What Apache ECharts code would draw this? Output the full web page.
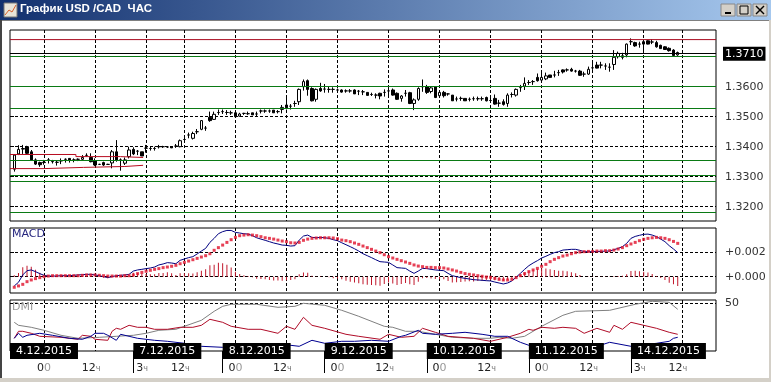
<!DOCTYPE html>
<html>
<head>
<meta charset="utf-8">
<title>USD/CAD</title>
<script src="https://cdn.jsdelivr.net/npm/echarts@6/dist/echarts.min.js"></script>
<style>
html,body{margin:0;padding:0;background:#fff;}
#container{width:771px;height:382px;}
</style>
</head>
<body>
<div id="container"></div>
<script>
// hourly candles: open, close, low, high (first one sits at slot 1)
var candles=[
[1.3325,1.3372,1.3317,1.3375],[1.3376,1.3391,1.3372,1.3405],[1.3392,1.3394,1.3376,1.3406],[1.3400,1.3378,1.3374,1.3403],
[1.3383,1.3356,1.3353,1.3389],[1.3356,1.3342,1.3339,1.3361],[1.3347,1.3340,1.3333,1.3350],[1.3348,1.3347,1.3340,1.3356],
[1.3356,1.3356,1.3344,1.3362],[1.3350,1.3351,1.3344,1.3356],[1.3348,1.3348,1.3337,1.3353],[1.3353,1.3353,1.3342,1.3361],
[1.3358,1.3358,1.3347,1.3361],[1.3361,1.3356,1.3347,1.3362],[1.3356,1.3356,1.3348,1.3361],[1.3358,1.3358,1.3352,1.3361],
[1.3358,1.3364,1.3356,1.3372],[1.3371,1.3371,1.3367,1.3378],[1.3364,1.3350,1.3348,1.3378],[1.3352,1.3339,1.3336,1.3361],
[1.3341,1.3341,1.3339,1.3343],[1.3347,1.3339,1.3336,1.3350],[1.3341,1.3341,1.3339,1.3343],[1.3346,1.3383,1.3328,1.3389],
[1.3383,1.3356,1.3350,1.3422],[1.3356,1.3356,1.3320,1.3361],[1.3345,1.3356,1.3339,1.3364],[1.3367,1.3389,1.3361,1.3400],
[1.3391,1.3376,1.3372,1.3398],[1.3385,1.3385,1.3372,1.3389],[1.3383,1.3369,1.3369,1.3383],[1.3395,1.3395,1.3380,1.3406],
[1.3394,1.3394,1.3387,1.3402],[1.3394,1.3394,1.3387,1.3400],[1.3400,1.3400,1.3394,1.3406],[1.3400,1.3400,1.3396,1.3403],
[1.3399,1.3399,1.3396,1.3402],[1.3400,1.3396,1.3396,1.3400],[1.3402,1.3402,1.3396,1.3409],[1.3400,1.3420,1.3398,1.3424],
[1.3424,1.3424,1.3417,1.3433],[1.3439,1.3439,1.3428,1.3447],[1.3428,1.3444,1.3424,1.3450],[1.3450,1.3450,1.3442,1.3459],
[1.3458,1.3487,1.3455,1.3489],[1.3462,1.3462,1.3453,1.3469],[1.3498,1.3487,1.3483,1.3517],[1.3491,1.3508,1.3489,1.3517],
[1.3514,1.3514,1.3506,1.3524],[1.3517,1.3517,1.3509,1.3524],[1.3514,1.3514,1.3506,1.3522],[1.3513,1.3513,1.3506,1.3520],
[1.3513,1.3500,1.3498,1.3517],[1.3502,1.3509,1.3500,1.3513],[1.3511,1.3511,1.3506,1.3513],[1.3510,1.3510,1.3506,1.3517],
[1.3513,1.3506,1.3506,1.3513],[1.3509,1.3509,1.3502,1.3517],[1.3519,1.3519,1.3511,1.3524],[1.3519,1.3519,1.3513,1.3524],
[1.3519,1.3519,1.3513,1.3524],[1.3522,1.3513,1.3513,1.3522],[1.3517,1.3517,1.3511,1.3522],[1.3524,1.3531,1.3511,1.3539],
[1.3539,1.3530,1.3524,1.3567],[1.3535,1.3535,1.3524,1.3542],[1.3544,1.3544,1.3533,1.3553],[1.3550,1.3591,1.3539,1.3594],
[1.3600,1.3617,1.3587,1.3624],[1.3620,1.3591,1.3570,1.3624],[1.3594,1.3553,1.3551,1.3598],[1.3558,1.3591,1.3550,1.3594],
[1.3594,1.3586,1.3583,1.3613],[1.3592,1.3592,1.3580,1.3609],[1.3591,1.3591,1.3580,1.3600],[1.3591,1.3591,1.3580,1.3598],
[1.3589,1.3589,1.3580,1.3594],[1.3589,1.3582,1.3580,1.3591],[1.3586,1.3586,1.3580,1.3591],[1.3586,1.3586,1.3580,1.3592],
[1.3589,1.3576,1.3576,1.3591],[1.3585,1.3585,1.3572,1.3589],[1.3583,1.3583,1.3572,1.3589],[1.3581,1.3571,1.3571,1.3581],
[1.3574,1.3574,1.3569,1.3580],[1.3572,1.3572,1.3561,1.3578],[1.3578,1.3569,1.3558,1.3580],[1.3581,1.3581,1.3567,1.3591],
[1.3586,1.3586,1.3570,1.3596],[1.3589,1.3572,1.3570,1.3594],[1.3578,1.3558,1.3556,1.3581],[1.3561,1.3569,1.3550,1.3572],
[1.3578,1.3578,1.3567,1.3589],[1.3580,1.3544,1.3542,1.3583],[1.3544,1.3556,1.3522,1.3561],[1.3558,1.3594,1.3553,1.3598],
[1.3600,1.3600,1.3583,1.3624],[1.3600,1.3581,1.3576,1.3606],[1.3584,1.3596,1.3578,1.3602],[1.3600,1.3564,1.3562,1.3602],
[1.3570,1.3581,1.3564,1.3589],[1.3581,1.3570,1.3564,1.3586],[1.3576,1.3576,1.3570,1.3578],[1.3572,1.3553,1.3553,1.3572],
[1.3559,1.3559,1.3551,1.3567],[1.3561,1.3561,1.3553,1.3567],[1.3561,1.3553,1.3553,1.3561],[1.3558,1.3558,1.3551,1.3564],
[1.3560,1.3560,1.3553,1.3567],[1.3560,1.3560,1.3553,1.3567],[1.3560,1.3560,1.3553,1.3567],[1.3564,1.3553,1.3551,1.3567],
[1.3554,1.3554,1.3547,1.3567],[1.3561,1.3542,1.3540,1.3574],[1.3545,1.3545,1.3533,1.3556],[1.3550,1.3541,1.3537,1.3558],
[1.3544,1.3572,1.3533,1.3578],[1.3574,1.3574,1.3564,1.3581],[1.3572,1.3591,1.3567,1.3594],[1.3597,1.3597,1.3583,1.3606],
[1.3602,1.3611,1.3589,1.3631],[1.3614,1.3614,1.3606,1.3622],[1.3617,1.3617,1.3606,1.3622],[1.3631,1.3620,1.3617,1.3644],
[1.3622,1.3631,1.3614,1.3647],[1.3626,1.3636,1.3622,1.3647],[1.3639,1.3631,1.3631,1.3639],[1.3639,1.3639,1.3631,1.3653],
[1.3647,1.3647,1.3636,1.3656],[1.3656,1.3649,1.3644,1.3658],[1.3656,1.3656,1.3650,1.3661],[1.3658,1.3652,1.3650,1.3663],
[1.3652,1.3652,1.3647,1.3656],[1.3652,1.3638,1.3636,1.3656],[1.3642,1.3642,1.3633,1.3650],[1.3642,1.3658,1.3639,1.3667],
[1.3663,1.3663,1.3656,1.3683],[1.3672,1.3662,1.3661,1.3683],[1.3672,1.3672,1.3661,1.3683],[1.3669,1.3669,1.3656,1.3678],
[1.3665,1.3665,1.3650,1.3678],[1.3674,1.3698,1.3656,1.3722],[1.3700,1.3711,1.3694,1.3717],[1.3703,1.3698,1.3691,1.3713],
[1.3706,1.3742,1.3698,1.3744],[1.3750,1.3750,1.3739,1.3761],[1.3747,1.3736,1.3733,1.3750],[1.3742,1.3742,1.3730,1.3750],
[1.3750,1.3742,1.3720,1.3753],[1.3753,1.3742,1.3741,1.3755],[1.3749,1.3749,1.3742,1.3758],[1.3747,1.3733,1.3730,1.3753],
[1.3738,1.3727,1.3727,1.3740],[1.3733,1.3724,1.3724,1.3735],[1.3728,1.3720,1.3717,1.3731],[1.3722,1.3704,1.3704,1.3725],
[1.3706,1.3714,1.3703,1.3717]
];
var lastPrice=1.3710;
var priceTicks=[1.32,1.33,1.34,1.35,1.36,1.37];
var greenLevels=[1.3701,1.3601,1.3527,1.3355,1.3304,1.3285,1.3181];
var redLevel=1.3757;
// red range steps on the left side
var rangeTopX=[0,15.5,26,31.3];
var rangeTop=[1.3374,1.3367,1.3364,1.3364];
var rangeBottomX=[0,8,17.3,27,31.3];
var rangeBottom=[1.3327,1.3331,1.3334,1.3338,1.3338];

// MACD, in points (0.00001)
var macdLine=[-76,-46,14,49,55,41,25,11,5,5,5,8,8,8,11,14,16,19,19,14,8,0,-8,0,8,11,14,19,46,55,60,66,71,79,96,104,115,112,106,134,
145,156,164,186,210,232,281,314,352,369,379,379,363,358,352,349,336,319,308,298,287,276,268,259,257,251,254,300,333,341,322,319,322,319,314,303,295,278,262,246,
229,210,188,172,156,139,123,120,117,96,74,71,68,46,27,46,68,66,60,55,52,49,27,8,0,-8,-14,-19,-25,-27,-30,-33,-35,-44,-52,-60,-52,-35,-5,27,
60,90,112,131,153,167,183,197,205,218,221,224,224,216,205,205,205,207,207,210,210,221,232,246,273,314,330,339,347,349,341,328,308,287,254,227,197];
var macdSignal=[-87,-76,-63,-41,-27,-16,-8,0,5,8,8,8,8,8,8,8,11,14,14,14,11,8,5,5,5,5,8,8,14,25,35,44,52,60,66,74,79,85,93,106,
117,128,139,150,161,172,188,216,238,259,281,303,322,336,341,344,341,336,328,319,314,308,300,292,287,278,276,281,298,308,314,317,319,319,319,317,311,300,295,287,
276,265,251,238,224,210,197,180,164,153,142,131,120,109,96,87,82,76,76,74,74,71,63,55,46,35,25,19,14,8,3,-3,-5,-14,-22,-27,-27,-22,-8,8,
25,41,55,68,85,101,123,142,156,169,177,188,197,202,205,207,207,210,210,213,213,218,227,238,254,268,281,295,306,314,319,322,319,314,303,289,273];
var macdHist=[11,30,77,90,82,57,33,11,0,-3,-3,0,0,0,3,6,5,5,5,0,-3,-8,-13,-5,3,6,6,11,32,30,25,22,19,19,30,30,36,27,13,28,
28,28,25,36,49,60,93,98,114,110,98,76,41,22,11,5,-5,-17,-20,-21,-27,-32,-32,-33,-30,-27,-22,19,35,33,8,2,3,0,-5,-14,-16,-22,-33,-41,
-47,-55,-63,-66,-68,-71,-74,-60,-47,-57,-68,-60,-52,-63,-69,-41,-14,-10,-16,-19,-22,-22,-36,-47,-46,-43,-39,-38,-39,-35,-33,-30,-30,-30,-30,-33,-25,-13,3,19,
35,49,57,63,68,66,60,55,49,49,44,36,27,14,0,-2,-2,-3,-3,-3,-3,3,5,8,19,46,49,44,41,35,22,6,-11,-27,-49,-62,-76];
var macdTicks=[0,200];

// DMI vertices (slot, value)
var adxX=[1,2,5,8,12,16,21,25,29,32,35,39,41,45,48,50,52,58,63,67,69,74,78,82,88,90,93,96,100,104,109,113,115,118,121,125,130,133,141,147,151,155,157];
var adx=[31,28,26,23,18,15,16,17,18,20,23,24,27,33,42,47,49,49,46,47,50,48,43,37,27,26,22,22,19,16,15,15,16,15,17,27,38,42,43,49,52,51,44];
var plusDiX=[1,2,3,5,7,12,16,17,19,20,23,24,25,26,28,30,32,34,37,40,43,45,47,50,52,56,59,63,65,67,69,71,74,79,82,87,89,92,95,97,100,103,106,109,113,117,120,122,123,125,128,130,133,135,138,141,142,144,146,149,152,155,157];
var plusDi=[15,22,22,20,17,16,14,18,17,14,13,22,25,24,28,26,26,24,24,26,26,28,34,31,27,24,24,20,27,24,36,28,25,19,17,14,19,16,17,25,21,17,16,15,12,16,20,24,23,26,25,26,25,20,25,21,28,24,31,28,25,21,19];
var minusDiX=[1,2,3,4,7,10,14,17,19,20,22,23,25,26,28,30,34,37,41,45,50,55,64,68,71,74,78,81,85,89,92,93,96,97,100,104,107,111,114,117,120,122,134,138,141,146,152,155,156,157];
var minusDi=[15,20,16,18,20,18,15,14,17,20,20,18,13,19,17,15,13,12,10,7,6,8,9,7,13,10,12,12,13,12,17,18,23,20,19,20,21,19,17,17,11,8,8,7,11,7,10,12,15,16];
var dmiTicks=[50];

// slot numbers of the hour marks and the date plates
var hourTicks=[8,20,32,41,53,65,77,89,101,113,125,137,149,158];
var hourLabels=['00','12ч','3ч','12ч','00','12ч','00','12ч','00','12ч','00','12ч','3ч','12ч'];
var dateTicks=[0,29,50,74,98,122,146];
var dateLabels=['4.12.2015','7.12.2015','8.12.2015','9.12.2015','10.12.2015','11.12.2015','14.12.2015'];

var slotMax=166;
var fontName='"DejaVu Sans",sans-serif';

function pairs(xs,ys){
	var out=[];
	for(var i=0;i<xs.length;i++){
		out.push([xs[i],ys[i]]);
	}
	return out;
}
function bySlot(ys){
	var out=[];
	for(var i=0;i<ys.length;i++){
		out.push([i+1,ys[i]]);
	}
	return out;
}

var candleData=[];
for(var i=0;i<candles.length;i++){
	candleData.push([i+1,candles[i][0],candles[i][1],candles[i][2],candles[i][3]]);
}

var levelLines=[{yAxis:lastPrice,lineStyle:{color:'#000',width:1,type:'solid'}}];
for(var i=0;i<greenLevels.length;i++){
	levelLines.push({yAxis:greenLevels[i],lineStyle:{color:'#0a7a14',width:1,type:'solid'}});
}

// x axis shared by the three panels: only the dashed hour lines
function hourAxis(gridIndex){
	return {
		type:'value',
		gridIndex:gridIndex,
		min:0,
		max:slotMax,
		axisLine:{show:false},
		axisLabel:{show:false,customValues:hourTicks},
		axisTick:{show:false,customValues:hourTicks},
		splitLine:{show:true,lineStyle:{color:'#000',width:1,type:[3,2]}}
	};
}
function sideAxis(gridIndex,min,max,ticks,formatter){
	return {
		type:'value',
		gridIndex:gridIndex,
		position:'right',
		min:min,
		max:max,
		axisLine:{show:false},
		axisTick:{show:true,length:4,lineStyle:{color:'#000'},customValues:ticks},
		axisLabel:{show:true,customValues:ticks,formatter:formatter,margin:9,padding:[3,0,0,0],color:'#333',fontFamily:fontName,fontSize:11},
		splitLine:{show:true,lineStyle:{color:'#000',width:1,type:[3,2]}}
	};
}

var priceMin=1.315233,priceMax=1.3789;

var option={
	animation:false,
	backgroundColor:'#fff',
	title:[
		{text:'График USD /CAD  ЧАС',left:20,top:3,padding:0,textStyle:{color:'#fff',fontFamily:'"Liberation Sans",sans-serif',fontWeight:'bold',fontSize:11.5}},
		{text:'MACD',left:12,top:229,padding:0,textStyle:{color:'#26267e',fontFamily:fontName,fontWeight:'normal',fontSize:11}},
		{text:'DMI',left:12,top:302,padding:0,textStyle:{color:'#999',fontFamily:fontName,fontWeight:'normal',fontSize:11}}
	],
	grid:[
		{left:10,top:30,width:706,height:191,show:true,backgroundColor:'#fff',borderColor:'#000',borderWidth:1},
		{left:10,top:228,width:706,height:65,show:true,backgroundColor:'#fff',borderColor:'#000',borderWidth:1},
		{left:10,top:300,width:706,height:51,show:true,backgroundColor:'#fff',borderColor:'#000',borderWidth:1}
	],
	xAxis:[
		hourAxis(0),
		hourAxis(1),
		hourAxis(2),
		{
			type:'value',gridIndex:2,position:'bottom',min:0,max:slotMax,
			axisLine:{show:false},axisTick:{show:false},splitLine:{show:false},
			axisLabel:{
				show:true,
				customValues:hourTicks,
				margin:12,
				formatter:function(value){
					var text=hourLabels[hourTicks.indexOf(value)];
					var head=text.slice(0,-1),tail=text.slice(-1);
					return '{a|'+head+'}'+(tail=='0'?'{b|0}':'{c|ч}');
				},
				rich:{
					a:{color:'#222',fontFamily:fontName,fontSize:11},
					b:{color:'#999',fontFamily:fontName,fontSize:11},
					c:{color:'#777',fontFamily:fontName,fontSize:8,padding:[0,8,0,0]}
				}
			}
		},
		{
			type:'value',gridIndex:2,position:'bottom',min:0,max:slotMax,z:10,
			axisLine:{show:false},splitLine:{show:false},
			axisTick:{show:true,length:22,lineStyle:{color:'#000'},customValues:dateTicks.slice(1)},
			axisLabel:{
				show:true,
				customValues:dateTicks,
				margin:-8,
				align:'left',
				color:'#fff',
				fontFamily:fontName,
				fontSize:11,
				backgroundColor:'#000',
				padding:[3,6,2,6],
				formatter:function(value){
					return dateLabels[dateTicks.indexOf(value)];
				}
			}
		}
	],
	yAxis:[
		sideAxis(0,priceMin,priceMax,priceTicks,function(v){return v.toFixed(4);}),
		sideAxis(1,-134,399,macdTicks,function(v){return '+'+(v/100000).toFixed(3);}),
		sideAxis(2,2.3,53.3,dmiTicks,function(v){return ''+v;}),
		{
			type:'value',gridIndex:0,position:'right',min:priceMin,max:priceMax,z:10,
			axisLine:{show:false},splitLine:{show:false},
			axisTick:{show:false,customValues:[lastPrice]},
			axisLabel:{
				show:true,
				customValues:[lastPrice],
				margin:7,
				color:'#fff',
				fontFamily:fontName,
				fontSize:11,
				backgroundColor:'#000',
				padding:[2,2,1,2],
				formatter:function(v){return v.toFixed(4);}
			}
		}
	],
	series:[
		{
			name:'USD/CAD',
			type:'candlestick',
			xAxisIndex:0,
			yAxisIndex:0,
			barWidth:3,
			itemStyle:{color:'#fff',color0:'#000',borderColor:'#000',borderColor0:'#000',borderWidth:1},
			markLine:{silent:true,animation:false,symbol:'none',precision:4,label:{show:false},data:levelLines},
			data:candleData
		},
		{
			name:'redLevel',type:'line',xAxisIndex:0,yAxisIndex:0,showSymbol:false,
			lineStyle:{color:'#a80c20',width:1},
			data:[[0,redLevel],[slotMax,redLevel]]
		},
		{
			name:'rangeTop',type:'line',xAxisIndex:0,yAxisIndex:0,step:'end',showSymbol:false,
			lineStyle:{color:'#b80c20',width:1},z:4,
			data:pairs(rangeTopX,rangeTop)
		},
		{
			name:'rangeBottom',type:'line',xAxisIndex:0,yAxisIndex:0,step:'end',showSymbol:false,
			lineStyle:{color:'#b80c20',width:1},z:4,
			data:pairs(rangeBottomX,rangeBottom)
		},
		{
			name:'hist',type:'bar',xAxisIndex:1,yAxisIndex:1,barWidth:1,
			itemStyle:{color:'#c0182c'},
			data:bySlot(macdHist)
		},
		{
			name:'macd',type:'line',xAxisIndex:1,yAxisIndex:1,showSymbol:false,
			lineStyle:{color:'#000080',width:1},z:3,
			data:bySlot(macdLine)
		},
		{
			name:'signal',type:'scatter',xAxisIndex:1,yAxisIndex:1,symbol:'rect',symbolSize:3,
			itemStyle:{color:'#e0102a'},z:4,
			data:bySlot(macdSignal)
		},
		{
			name:'adx',type:'line',xAxisIndex:2,yAxisIndex:2,showSymbol:false,
			lineStyle:{color:'#808080',width:1},
			data:pairs(adxX,adx)
		},
		{
			name:'+di',type:'line',xAxisIndex:2,yAxisIndex:2,showSymbol:false,
			lineStyle:{color:'#b00c28',width:1},
			data:pairs(plusDiX,plusDi)
		},
		{
			name:'-di',type:'line',xAxisIndex:2,yAxisIndex:2,showSymbol:false,
			lineStyle:{color:'#000090',width:1},
			data:pairs(minusDiX,minusDi)
		}
	],
	// window chrome around the panels
	graphic:[
		{type:'rect',z:-1,shape:{x:0,y:0,width:771,height:20},style:{fill:new echarts.graphic.LinearGradient(0,0,1,0,[{offset:0,color:'#12306e'},{offset:1,color:'#a6c8ee'}])}},
		{type:'rect',z:-1,shape:{x:0,y:20,width:771,height:1},style:{fill:'#808080'}},
		{type:'rect',z:-1,shape:{x:0,y:20,width:2,height:362},style:{fill:'#444'}},
		{type:'rect',z:-1,shape:{x:0,y:378,width:771,height:4},style:{fill:'#d4d0c8'}},
		{type:'rect',z:-1,shape:{x:769,y:20,width:2,height:362},style:{fill:'#d4d0c8'}},
		{type:'rect',z:1,shape:{x:4,y:3,width:13,height:14},style:{fill:'#e8e4d8',stroke:'#777'}},
		{type:'polyline',z:2,shape:{points:[[5,15],[9,10],[12,12],[16,5]]},style:{fill:null,stroke:'#d8602a',lineWidth:1}},
		{type:'rect',z:1,shape:{x:721,y:4,width:14,height:12},style:{fill:'#d4d0c8',stroke:'#888'}},
		{type:'rect',z:2,shape:{x:725,y:12,width:6,height:2},style:{fill:'#000'}},
		{type:'rect',z:1,shape:{x:737,y:4,width:14,height:12},style:{fill:'#d4d0c8',stroke:'#888'}},
		{type:'rect',z:2,shape:{x:740,y:6,width:8,height:8},style:{fill:'none',stroke:'#000',lineWidth:1}},
		{type:'rect',z:1,shape:{x:753,y:4,width:14,height:12},style:{fill:'#d4d0c8',stroke:'#888'}},
		{type:'line',z:2,shape:{x1:756,y1:6,x2:764,y2:14},style:{stroke:'#000',lineWidth:1.5}},
		{type:'line',z:2,shape:{x1:764,y1:6,x2:756,y2:14},style:{stroke:'#000',lineWidth:1.5}}
	]
};

var mychart=echarts.init(document.getElementById('container'));
mychart.setOption(option);
</script>
</body>
</html>
